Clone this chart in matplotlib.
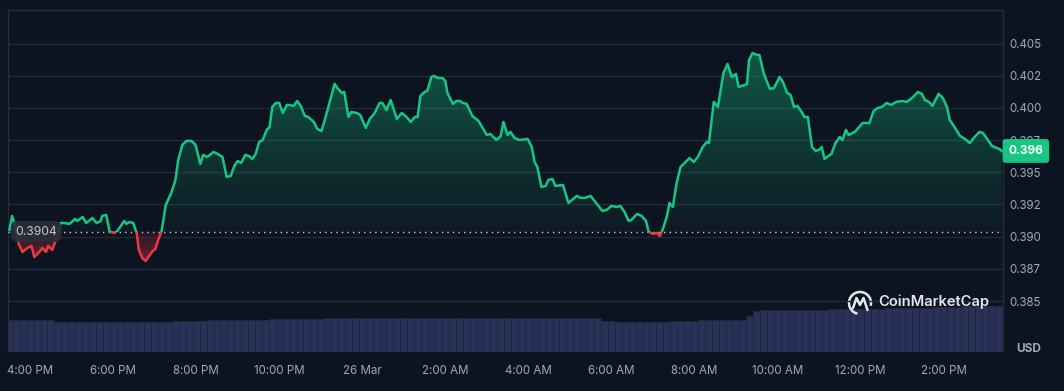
import numpy as np
import pandas as pd
import matplotlib
matplotlib.use("Agg")
import matplotlib.pyplot as plt
import matplotlib.dates as mdates
from matplotlib.patches import Rectangle, Arc
from matplotlib.lines import Line2D
from matplotlib.colors import to_rgb
import matplotlib.transforms as mtransforms

plt.rcParams['font.family'] = ['Inter', 'DejaVu Sans']

# ---------------- data ----------------
START = "2025-03-25 15:30"
minutes = [0, 4, 7, 14, 19, 26, 32, 36, 43, 48,
           53, 56, 62, 68, 74, 80, 87, 95, 98, 106,
           111, 120, 126, 132, 134, 140, 145, 152, 156, 162,
           166, 169, 173, 179, 184, 187, 192, 197, 201, 207,
           211, 214, 220, 226, 234, 240, 244, 250, 256, 263,
           269, 276, 280, 286, 295, 301, 308, 314, 320, 325,
           330, 335, 341, 346, 351, 356, 361, 366, 372, 376,
           380, 385, 390, 395, 401, 405, 411, 416, 421, 427,
           432, 440, 445, 451, 455, 463, 470, 474, 480, 484,
           490, 494, 502, 507, 515, 521, 528, 535, 539, 545,
           551, 560, 567, 574, 580, 586, 590, 594, 600, 604,
           610, 614, 619, 626, 630, 633, 641, 646, 651, 655,
           661, 669, 678, 690, 695, 704, 710, 714, 720, 724,
           730, 737, 749, 755, 759, 763, 769, 775, 779, 785,
           789, 800, 808, 820, 826, 831, 840, 849, 857, 863,
           870, 878, 883, 889, 895, 899, 907, 914, 920, 924,
           930, 936, 940, 944, 950, 954, 959, 964, 970, 976,
           983, 989, 995, 1002, 1008, 1011, 1018, 1024, 1032, 1038,
           1044, 1050, 1054, 1063, 1066, 1069, 1074, 1080, 1084, 1090,
           1099, 1105, 1113, 1118, 1124, 1129, 1134, 1139, 1145, 1149,
           1154, 1160, 1165, 1170, 1174, 1178, 1188, 1194, 1200, 1204,
           1209, 1213, 1222, 1227, 1233, 1243, 1249, 1255, 1261, 1268,
           1274, 1282, 1290, 1297, 1306, 1313, 1319, 1323, 1329, 1334,
           1340, 1343, 1349, 1355, 1359, 1363, 1374, 1381, 1388, 1395,
           1402, 1407, 1412, 1420, 1427, 1431, 1434]

price = [0.39052, 0.39161, 0.39106, 0.38936, 0.38881, 0.38912, 0.38928, 0.38842, 0.38881, 0.38912,
         0.38881, 0.38928, 0.38897, 0.38990, 0.39106, 0.39106, 0.39099, 0.39138, 0.39122, 0.39153,
         0.39106, 0.39145, 0.39106, 0.39122, 0.39161, 0.39169, 0.39037, 0.39029, 0.39044, 0.39091,
         0.39122, 0.39099, 0.39114, 0.39106, 0.39029, 0.38897, 0.38834, 0.38811, 0.38842, 0.38889,
         0.38904, 0.38959, 0.39044, 0.39246, 0.39340, 0.39441, 0.39596, 0.39713, 0.39744, 0.39744,
         0.39713, 0.39565, 0.39635, 0.39619, 0.39658, 0.39643, 0.39619, 0.39464, 0.39472, 0.39549,
         0.39588, 0.39573, 0.39635, 0.39627, 0.39604, 0.39643, 0.39736, 0.39751, 0.39829, 0.39852,
         0.40008, 0.40039, 0.40039, 0.39961, 0.40023, 0.40023, 0.40016, 0.40054, 0.40016, 0.39938,
         0.39930, 0.39891, 0.39837, 0.39821, 0.39891, 0.40047, 0.40187, 0.40155, 0.40117, 0.40124,
         0.39930, 0.39969, 0.39961, 0.39946, 0.39845, 0.39915, 0.39961, 0.40039, 0.40039, 0.39984,
         0.40062, 0.39915, 0.39961, 0.39930, 0.39891, 0.39930, 0.39930, 0.40093, 0.40124, 0.40132,
         0.40241, 0.40249, 0.40233, 0.40233, 0.40210, 0.40117, 0.40031, 0.40054, 0.40054, 0.40039,
         0.40031, 0.39938, 0.39899, 0.39790, 0.39798, 0.39751, 0.39782, 0.39891, 0.39790, 0.39814,
         0.39767, 0.39751, 0.39759, 0.39697, 0.39580, 0.39542, 0.39386, 0.39394, 0.39441, 0.39448,
         0.39394, 0.39402, 0.39262, 0.39316, 0.39301, 0.39301, 0.39316, 0.39254, 0.39200, 0.39207,
         0.39239, 0.39231, 0.39239, 0.39192, 0.39122, 0.39130, 0.39176, 0.39161, 0.39122, 0.39037,
         0.39021, 0.39029, 0.39005, 0.39052, 0.39153, 0.39262, 0.39231, 0.39409, 0.39542, 0.39573,
         0.39611, 0.39580, 0.39619, 0.39697, 0.39736, 0.39728, 0.40047, 0.40008, 0.40272, 0.40342,
         0.40241, 0.40264, 0.40163, 0.40179, 0.40187, 0.40373, 0.40427, 0.40412, 0.40412, 0.40272,
         0.40148, 0.40155, 0.40241, 0.40202, 0.40117, 0.40101, 0.40008, 0.40016, 0.39969, 0.39930,
         0.39930, 0.39697, 0.39666, 0.39674, 0.39697, 0.39604, 0.39643, 0.39728, 0.39775, 0.39751,
         0.39829, 0.39790, 0.39814, 0.39845, 0.39883, 0.39883, 0.39977, 0.40000, 0.40008, 0.40039,
         0.40023, 0.40047, 0.40054, 0.40047, 0.40085, 0.40124, 0.40109, 0.40062, 0.40047, 0.40016,
         0.40078, 0.40109, 0.40078, 0.40008, 0.39907, 0.39876, 0.39782, 0.39759, 0.39728, 0.39775,
         0.39814, 0.39806, 0.39767, 0.39705, 0.39689, 0.39681, 0.39666]

reference_price = 0.3904
reference_label = "0.3904"
current_label = "0.396"

volume_minutes = list(range(0, 1440, 10))
volume = [194, 194, 195, 194, 194, 193, 192,
          180, 180, 180, 179, 179, 180, 180, 180, 180, 180, 180, 180, 181,
          181, 182, 182, 183, 184,
          186, 187, 188, 189,
          192, 193, 194, 194, 194, 193, 194, 194, 195, 196, 197,
          199, 200, 200, 200, 201, 201, 202, 203, 204,
          206, 206, 206, 205, 205, 205, 206, 206, 206, 206, 206, 206, 206, 206, 206, 206, 206, 206,
          206, 206, 205, 205, 205, 205, 205, 205, 205, 205, 205, 205, 205, 205, 205, 204, 204, 204, 204,
          184, 184, 183, 182, 181, 181, 181, 181, 182, 182,
          188, 188, 189, 189, 190, 190, 190, 191, 191, 192, 192,
          214, 246,
          252, 253, 253, 254, 254, 254, 255, 255, 255, 255, 256, 256, 256, 257, 257, 258, 258, 260, 262,
          263, 264, 264, 265, 266, 266, 268, 270, 270, 272,
          274, 276, 276, 277, 278, 278]

yticks = [0.385, 0.3875, 0.39, 0.3925, 0.395, 0.3975, 0.40, 0.4025, 0.405]
ytick_labels = ["0.385", "0.387", "0.390", "0.392", "0.395", "0.397", "0.400", "0.402", "0.405"]

# ---------------- style ----------------
BG = "#0d1421"
GRID = "#222838"
GREEN = "#16c784"
RED = "#ea3943"
TXT = "#a1a7bb"
VOLC = "#2a3157"

W, H = 1064, 391
fig = plt.figure(figsize=(W / 100, H / 100), dpi=100, facecolor=BG)

def fx(px):
    return px / W

def fy(py):
    return 1 - py / H

ax_l, ax_r, ax_t, ax_b = 8, 1003, 10, 352
rect = [fx(ax_l), fy(ax_b), fx(ax_r - ax_l), (ax_b - ax_t) / H]

t0 = pd.Timestamp(START)
t = mdates.date2num(t0 + pd.to_timedelta(minutes, unit="m"))
tv = mdates.date2num(t0 + pd.to_timedelta(volume_minutes, unit="m"))
p = np.array(price)
x0 = mdates.date2num(t0 - pd.Timedelta(minutes=2))
x1 = mdates.date2num(t0 + pd.Timedelta(minutes=1436))
ylo, yhi = 0.38104, 0.40761

# volume axes (behind)
axv = fig.add_axes(rect, zorder=0)
axv.set_facecolor(BG)
axv.bar(tv, volume, width=10 / 1440, color=VOLC, edgecolor="#1f2745", linewidth=0.6, align="center")
axv.set_xlim(x0, x1)
axv.set_ylim(0, 2052)
axv.axis("off")

# price axes
ax = fig.add_axes(rect, zorder=1)
ax.set_facecolor("none")

ax.set_xlim(x0, x1)
ax.set_ylim(ylo, yhi)

# gradient fills clipped to area between line and reference
poly = ax.fill_between(t, p, reference_price, color="none", linewidth=0)
clip = poly.get_paths()[0]

g = np.zeros((256, 1, 4))
g[..., :3] = to_rgb(GREEN)
g[..., 3] = np.linspace(0.03, 0.38, 256)[:, None]
im_g = ax.imshow(g, extent=[x0, x1, reference_price, max(price)], origin="lower",
                 aspect="auto", zorder=2, interpolation="bilinear")
im_g.set_clip_path(clip, ax.transData)

r = np.zeros((256, 1, 4))
r[..., :3] = to_rgb(RED)
r[..., 3] = np.linspace(0.45, 0.08, 256)[:, None]
im_r = ax.imshow(r, extent=[x0, x1, min(price), reference_price], origin="lower",
                 aspect="auto", zorder=2, interpolation="bilinear")
im_r.set_clip_path(clip, ax.transData)
poly.remove()

ax.set_xlim(x0, x1)
ax.set_ylim(ylo, yhi)

# line split at reference
lg, = ax.plot(t, p, color=GREEN, lw=1.8, zorder=5, solid_joinstyle="round")
lg.set_clip_path(Rectangle((x0, reference_price), x1 - x0, 1, transform=ax.transData))
lr, = ax.plot(t, p, color=RED, lw=1.8, zorder=5, solid_joinstyle="round")
lr.set_clip_path(Rectangle((x0, 0), x1 - x0, reference_price, transform=ax.transData))

# reference dotted line
ax.axhline(reference_price, color="#c9cdd6", lw=1.0, ls=(0, (1, 3)), zorder=4)

# grid / ticks
ax.set_yticks(yticks)
ax.set_yticklabels(ytick_labels)
ax.yaxis.tick_right()
ax.grid(axis="y", color=GRID, lw=1, zorder=1)
ax.tick_params(axis="y", length=0, pad=4.5, labelcolor=TXT, labelsize=8.3)

def fmt(x, pos=None):
    d = mdates.num2date(x)
    if d.hour == 0 and d.minute == 0:
        return f"{d.day} {d.strftime('%b')}"
    h = d.hour % 12 or 12
    return f"{h}:{d.minute:02d} {'AM' if d.hour < 12 else 'PM'}"

ax.xaxis.set_major_locator(mdates.HourLocator(byhour=range(0, 24, 2)))
ax.xaxis.set_major_formatter(plt.FuncFormatter(fmt))
ax.tick_params(axis="x", length=0, pad=9.5, labelcolor=TXT, labelsize=8.3)

for s in ["top", "left", "right"]:
    ax.spines[s].set_color("#262c3c")
    ax.spines[s].set_linewidth(1)
ax.spines["bottom"].set_visible(False)

# reference label (left)
ax.text(0.0075, reference_price, reference_label,
        transform=mtransforms.blended_transform_factory(ax.transAxes, ax.transData),
        ha="left", va="center", color="#c3c7d0", fontsize=8.7, zorder=6,
        bbox=dict(boxstyle="round,pad=0.38,rounding_size=0.6", fc="#2a2e39", ec="none", alpha=0.92))

# current price badge (right)
ax.text(1.0055, price[-1], current_label,
        transform=mtransforms.blended_transform_factory(ax.transAxes, ax.transData),
        ha="left", va="center", color="white", fontsize=8.5, fontweight="bold", zorder=7, clip_on=False,
        bbox=dict(boxstyle="round,pad=0.5,rounding_size=0.25", fc=GREEN, ec="none"))

# USD label
fig.text(fx(1029), fy(349), "USD", ha="center", va="center", color=TXT, fontsize=8.5, fontweight="bold")

# CoinMarketCap watermark
cx, cy, rr = 860, 303, 11
arc = Arc((fx(cx), fy(cy)), 2 * rr / W, 2 * rr / H, theta1=-35, theta2=265,
          transform=fig.transFigure, color="#e4e7ee", lw=1.8)
fig.add_artist(arc)
zig_x = [853, 856.5, 860, 863.5, 867.5]
zig_y = [308, 298, 305, 298, 310]
fig.add_artist(Line2D([fx(v) for v in zig_x], [fy(v) for v in zig_y], transform=fig.transFigure,
                      color="#e4e7ee", lw=1.8, solid_joinstyle="round", solid_capstyle="round"))
fig.text(fx(878), fy(302), "CoinMarketCap", ha="left", va="center", color="#e4e7ee",
         fontsize=10.6, fontweight="semibold")

fig.savefig("out.png", dpi=100, facecolor=BG)
